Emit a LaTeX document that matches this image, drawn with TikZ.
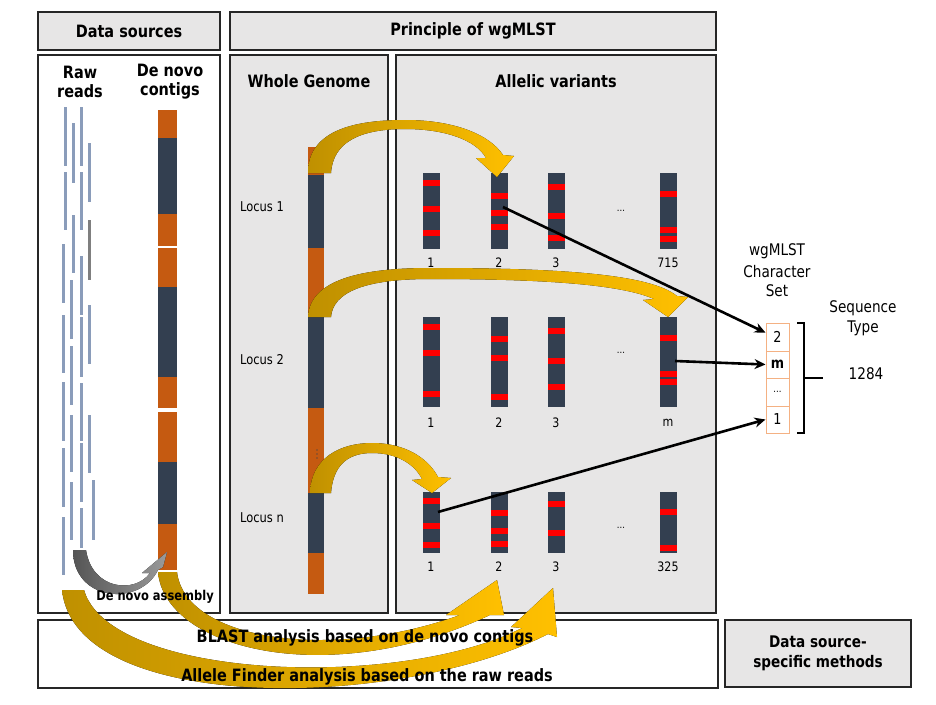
\documentclass[tikz,border=0pt]{standalone}
\usepackage{fontspec}
\setmainfont{DejaVu Sans}[FakeStretch=0.85]
\usetikzlibrary{arrows.meta}
\definecolor{panel}{HTML}{E7E6E6}
\definecolor{boxline}{HTML}{262626}
\definecolor{barc}{HTML}{333F50}
\definecolor{orng}{HTML}{C55A11}
\definecolor{redbar}{HTML}{FF0000}
\definecolor{readc}{HTML}{8A9CBA}
\definecolor{readg}{HTML}{7F7F7F}
\definecolor{golda}{HTML}{BF9000}
\definecolor{goldb}{HTML}{FFC000}
\definecolor{graya}{HTML}{555555}
\definecolor{grayb}{HTML}{9A9A9A}
\definecolor{csline}{HTML}{F4B183}
\begin{document}
\begin{tikzpicture}[x=1pt,y=-1pt,
  panelbox/.style={draw=boxline, line width=1.6pt, inner sep=0pt},
  allele/.style={fill=barc, minimum width=17pt, inner sep=0pt},
  readline/.style={draw=readc, line width=3pt},
  numlab/.style={font=\fontsize{13}{15}\selectfont, inner sep=0pt},
  hdr/.style={font=\fontsize{17}{20}\selectfont\bfseries, align=center, inner sep=0pt},
  locuslab/.style={font=\fontsize{13.5}{16}\selectfont, inner sep=0pt},
  csbox/.style={draw=csline, line width=1pt, fill=white, minimum width=23pt, inner sep=0pt, font=\fontsize{15}{18}\selectfont},
  conn/.style={draw=black, line width=2.6pt, -{Stealth[length=11pt,width=10pt]}},
  yarrow/.style={left color=golda, right color=goldb, draw=none},
  garrow/.style={left color=graya, right color=grayb, draw=none},
  dots/.style={font=\fontsize{10}{12}\selectfont, inner sep=0pt}
]
\useasboundingbox (0,0) rectangle (936,704);
\fill[white] (0,0) rectangle (936,704);

% ---------- panels ----------
\node[panelbox, fill=panel, minimum width=182pt, minimum height=38pt] (dshead) at (129,31) {};
\node[panelbox, fill=white, minimum width=182pt, minimum height=558pt] (dsbody) at (129,334) {};
\node[panelbox, fill=panel, minimum width=486pt, minimum height=38pt] (prhead) at (473,31) {};
\node[panelbox, fill=panel, minimum width=158pt, minimum height=558pt] (wgbox) at (309,334) {};
\node[panelbox, fill=panel, minimum width=320pt, minimum height=558pt] (avbox) at (556,334) {};
\node[panelbox, fill=white, minimum width=680pt, minimum height=68pt] (bottombox) at (378,654) {};
\node[panelbox, fill=panel, minimum width=186pt, minimum height=67pt] (dsmbox) at (818,653.5) {};

% ---------- raw reads ----------
\foreach \x/\ya/\yb in {65/107/166, 65/172/230, 73/123/183, 73/215/273,
  81/107/166, 81/172/230, 81/256/315, 81/317/377, 81/383/441, 81/443/502, 81/508/548,
  89/143/202, 89/305/364, 89/415/473,
  63/244/303, 63/315/373, 63/382/441, 63/448/507, 63/517/575,
  71/280/339, 71/346/405, 71/415/472, 71/482/540, 93/480/540}
  {\draw[readline] (\x,\ya) -- (\x,\yb);}
\draw[readline, draw=readg] (89,220) -- (89,280);

% ---------- de novo contig bar ----------
\foreach \ya/\yb/\c in {110/138/orng, 138/214/barc, 214/246/orng, 248/287/orng, 287/377/barc,
  377/408/orng, 412/462/orng, 462/524/barc, 524/570/orng}
  {\fill[\c] (158,\ya) rectangle (177,\yb);}

% ---------- whole genome bar ----------
\foreach \ya/\yb/\c in {147/175/orng, 175/248/barc, 248/317/orng, 317/408/barc,
  408/493/orng, 493/553/barc, 553/594/orng}
  {\fill[\c] (308,\ya) rectangle (324,\yb);}
\foreach \y in {450,454,458} {\fill[barc!60!orng] (317,\y) circle (0.8);}

% ---------- allelic variants ----------
\foreach \cx/\nm/\lab/\reds in {431/a11/1/{183,209,233}, 499/a12/2/{196,213,227},
  556/a13/3/{187,216,238}, 668/a14/715/{194,230,239}}{
  \node[allele, minimum height=76pt] (\nm) at (\cx,211) {};
  \foreach \r in \reds {\fill[redbar] (\cx-8.5,\r-3) rectangle (\cx+8.5,\r+3);}
  \node[numlab] (l\nm) at (\cx,263) {\lab};
}
\foreach \cx/\nm/\lab/\reds in {431/a21/1/{327,353,394}, 499/a22/2/{339,358,397},
  556/a23/3/{331,361,387}, 668/a24/m/{338,374,382}}{
  \node[allele, minimum height=90pt] (\nm) at (\cx,362) {};
  \foreach \r in \reds {\fill[redbar] (\cx-8.5,\r-3) rectangle (\cx+8.5,\r+3);}
  \node[numlab] (l\nm) at (\cx,423) {\lab};
}
\foreach \cx/\nm/\lab/\reds in {431/a31/1/{501,526,545}, 499/a32/2/{513,531,544},
  556/a33/3/{504,533}, 668/a34/325/{512,548}}{
  \node[allele, minimum height=61pt] (\nm) at (\cx,522.5) {};
  \foreach \r in \reds {\fill[redbar] (\cx-8.5,\r-3) rectangle (\cx+8.5,\r+3);}
  \node[numlab] (l\nm) at (\cx,567) {\lab};
}
\node[dots] (d1) at (621,211) {...};
\node[dots] (d2) at (621,353) {...};
\node[dots] (d3) at (621,528) {...};

% ---------- yellow arrows: genome -> alleles ----------
\fill[yarrow] (308,173) .. controls (308,128) and (360,120) .. (405,120)
  .. controls (455,120) and (490,135) .. (503,155) -- (514,156) -- (497,177) -- (476,158) -- (486,158)
  .. controls (476,140) and (445,129) .. (405,129) .. controls (360,129) and (333,142) .. (331,173) -- cycle;
\fill[yarrow] (308,317) .. controls (310,280) and (360,268) .. (430,268)
  .. controls (560,268) and (650,274) .. (677,296) -- (688,297) -- (668,317) -- (643,300) -- (654,299)
  .. controls (620,284) and (540,279) .. (430,279) .. controls (365,279) and (333,292) .. (331,317) -- cycle;
\fill[yarrow] (310,493) .. controls (311,458) and (340,443) .. (372,443)
  .. controls (405,443) and (428,458) .. (438,477) -- (451,478) -- (432,493) -- (412,480) -- (422,479)
  .. controls (415,465) and (398,453) .. (372,453) .. controls (345,453) and (333,468) .. (331,493) -- cycle;

% ---------- yellow arrows: data sources -> alleles ----------
\fill[yarrow] (158,572) .. controls (165,650) and (330,690) .. (490,615) -- (504,615) -- (497,580)
  -- (446,615) -- (460,615) .. controls (330,662) and (185,640) .. (177,572) -- cycle;
\fill[yarrow] (62,590) .. controls (75,715) and (400,710) .. (548,634) -- (557,637) -- (553,588)
  -- (511,627) -- (522,628) .. controls (400,690) and (110,680) .. (84,590) -- cycle;

% ---------- gray de novo assembly arrow ----------
\fill[garrow] (73,550) .. controls (73,602) and (140,607) .. (158,570) -- (163,567) -- (167,552)
  -- (142,573) -- (150,573) .. controls (135,594) and (92,590) .. (86,550) -- cycle;

% ---------- character set ----------
\node[csbox, minimum height=28pt] (cs1) at (777.5,337) {2};
\node[csbox, minimum height=27pt] (cs2) at (777.5,364.5) {\bfseries m};
\node[csbox, minimum height=28pt, font=\fontsize{10}{12}\selectfont] (cs3) at (777.5,392) {...};
\node[csbox, minimum height=27pt] (cs4) at (777.5,419.5) {1};

\coordinate (p1) at (503,207);
\coordinate (p2) at (675,361);
\coordinate (p3) at (438,512);
\draw[conn] (p1) -- (cs1.160);
\draw[conn] (p2) -- (cs2.west);
\draw[conn] (p3) -- (cs4.west);

\coordinate (bt) at (797,323);
\coordinate (bb) at (797,433);
\coordinate (bm) at (823,378);
\draw[line width=2.6pt] (bt) -- (804,323) -- (804,433) -- (bb);
\draw[line width=2.6pt] (804,378) -- (bm);

% ---------- texts ----------
\node[hdr] (tds) at (129,31) {Data sources};
\node[hdr] (tpr) at (473,31) {Principle of wgMLST};
\node[hdr, font=\fontsize{17}{19}\selectfont\bfseries] (traw) at (80,82) {Raw\\reads};
\node[hdr, font=\fontsize{17}{19}\selectfont\bfseries] (tcon) at (170,82) {De novo\\contigs};
\node[hdr] (twg) at (309,81) {Whole Genome};
\node[hdr] (tav) at (556,81) {Allelic variants};
\node[locuslab] (loc1) at (262,207) {Locus 1};
\node[locuslab] (loc2) at (262,360) {Locus 2};
\node[locuslab] (locn) at (262,518) {Locus n};
\node[font=\fontsize{13.5}{16}\selectfont\bfseries, inner sep=0pt] (tdna) at (155,597) {De novo assembly};
\node[font=\fontsize{16}{19}\selectfont, align=center, inner sep=0pt] (tcs) at (777,270) {wgMLST\\[3pt]Character\\Set};
\node[font=\fontsize{16}{20}\selectfont, align=center, inner sep=0pt] (tst) at (863,318) {Sequence\\Type};
\node[font=\fontsize{16}{20}\selectfont, inner sep=0pt] (tnum) at (866,374) {1284};
\node[font=\fontsize{17}{19}\selectfont\bfseries, inner sep=0pt] (tblast) at (365,638) {BLAST analysis based on de novo contigs};
\node[font=\fontsize{17}{19}\selectfont\bfseries, inner sep=0pt] (tallele) at (367,677) {Allele Finder analysis based on the raw reads};
\node[font=\fontsize{16}{20}\selectfont\bfseries, align=center, inner sep=0pt] (tdsm) at (818,653) {Data source-\\specific methods};
\end{tikzpicture}
\end{document}
